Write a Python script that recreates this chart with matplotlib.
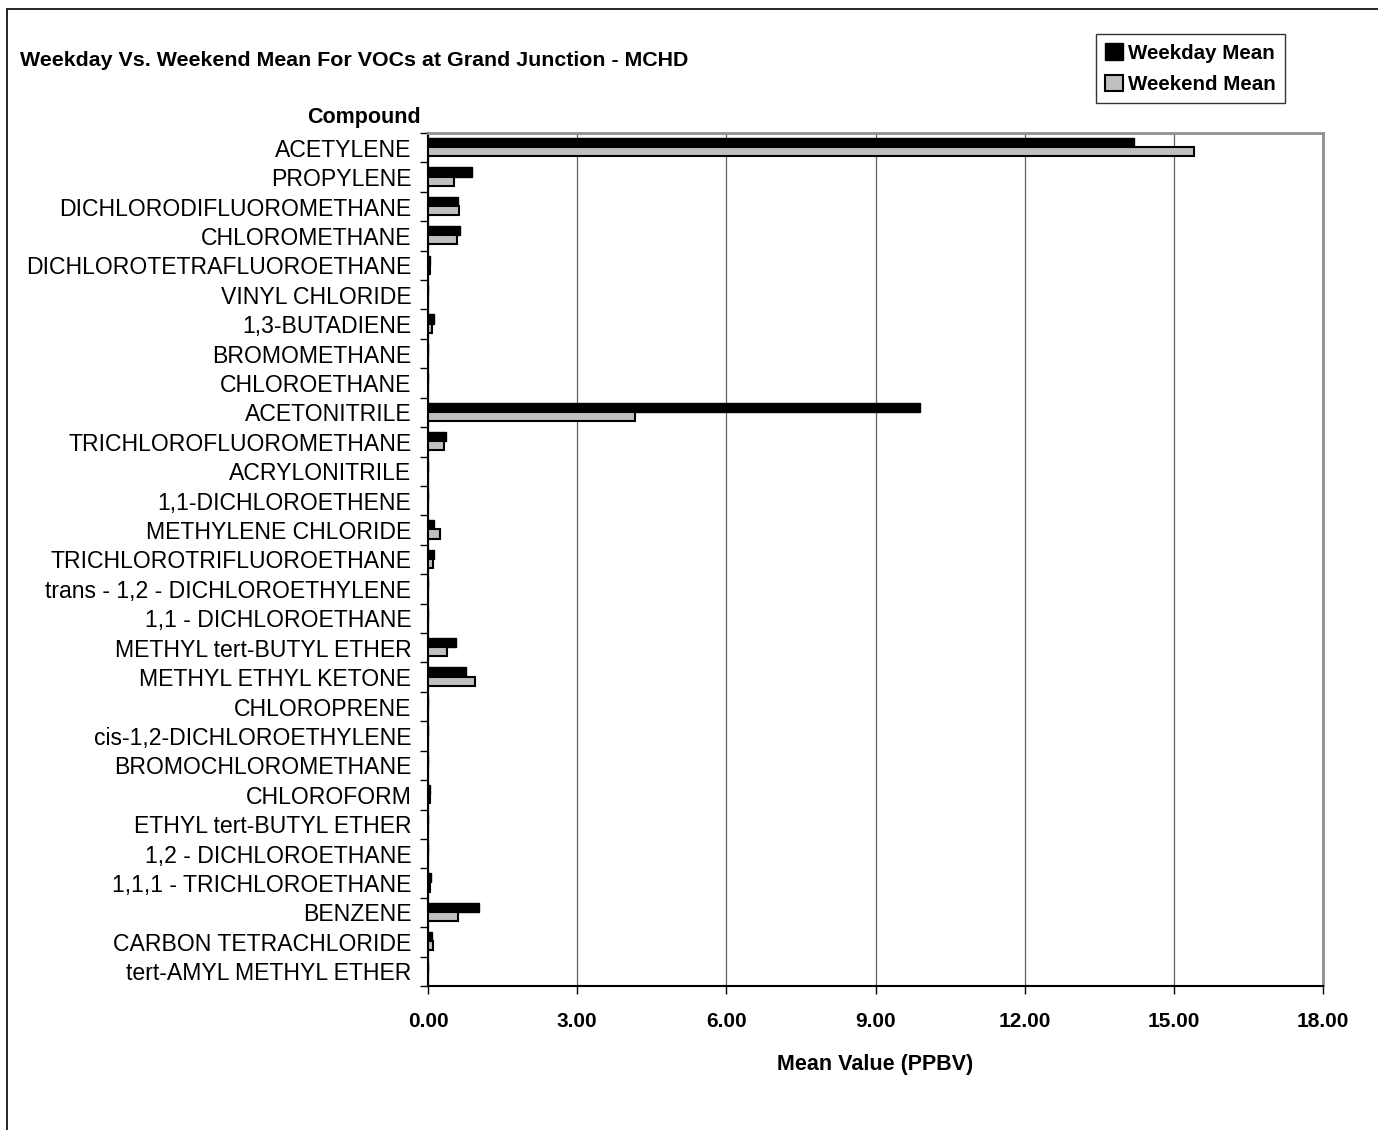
import numpy as np
import matplotlib
matplotlib.use("Agg")
import matplotlib.pyplot as plt
from matplotlib.patches import Patch, Rectangle

plt.rcParams['font.family'] = ['Liberation Sans', 'DejaVu Sans']

compounds = ["ACETYLENE", "PROPYLENE", "DICHLORODIFLUOROMETHANE", "CHLOROMETHANE",
             "DICHLOROTETRAFLUOROETHANE", "VINYL CHLORIDE", "1,3-BUTADIENE", "BROMOMETHANE",
             "CHLOROETHANE", "ACETONITRILE", "TRICHLOROFLUOROMETHANE", "ACRYLONITRILE",
             "1,1-DICHLOROETHENE", "METHYLENE CHLORIDE", "TRICHLOROTRIFLUOROETHANE",
             "trans - 1,2 - DICHLOROETHYLENE", "1,1 - DICHLOROETHANE", "METHYL tert-BUTYL ETHER",
             "METHYL ETHYL KETONE", "CHLOROPRENE", "cis-1,2-DICHLOROETHYLENE",
             "BROMOCHLOROMETHANE", "CHLOROFORM", "ETHYL tert-BUTYL ETHER",
             "1,2 - DICHLOROETHANE", "1,1,1 - TRICHLOROETHANE", "BENZENE",
             "CARBON TETRACHLORIDE", "tert-AMYL METHYL ETHER"]

weekday = [14.2, 0.88, 0.60, 0.65, 0.05, 0.0, 0.13, 0.0, 0.0, 9.90, 0.36, 0.0, 0.0,
           0.13, 0.12, 0.0, 0.0, 0.56, 0.76, 0.0, 0.0, 0.0, 0.05, 0.0, 0.0, 0.07,
           1.03, 0.09, 0.0]
weekend = [15.4, 0.53, 0.62, 0.58, 0.04, 0.0, 0.08, 0.0, 0.0, 4.16, 0.32, 0.0, 0.0,
           0.25, 0.11, 0.0, 0.0, 0.39, 0.95, 0.0, 0.0, 0.0, 0.04, 0.0, 0.0, 0.05,
           0.61, 0.10, 0.0]

xticks = [0, 3, 6, 9, 12, 15, 18]

W, H = 1378, 1130
fig = plt.figure(figsize=(W / 100, H / 100), dpi=100)
ax = fig.add_axes([428 / W, 1 - 986 / H, (1323 - 428) / W, (986 - 133) / H])

y = np.arange(len(compounds))
h = 0.31
ax.barh(y - h / 2 - 0.02, weekday, height=h, color='black', edgecolor='black', linewidth=1, zorder=3)
ax.barh(y + h / 2 - 0.02, weekend, height=h, color='#c0c0c0', edgecolor='black', linewidth=1.5, zorder=3)

ax.set_xlim(0, 18)
ax.set_ylim(len(compounds) - 0.5, -0.5)
ax.set_xticks(xticks)
ax.set_xticklabels(["%.2f" % v for v in xticks], fontsize=15, fontweight='bold')
ax.tick_params(axis='x', length=6, width=1, pad=13)
ax.set_yticks(y)
ax.set_yticklabels(compounds, fontsize=16.6)
ax.set_yticks(np.arange(len(compounds) + 1) - 0.5, minor=True)
ax.tick_params(axis='y', which='major', length=0, pad=12)
ax.tick_params(axis='y', which='minor', length=6, width=1)
ax.xaxis.grid(True, color='#606060', linewidth=0.9, zorder=0)
ax.set_axisbelow(True)

for s in ['top', 'right']:
    ax.spines[s].set_color('#909090')
    ax.spines[s].set_linewidth(2)
ax.spines['left'].set_linewidth(1.5)
ax.spines['bottom'].set_linewidth(1.5)

ax.set_xlabel("Mean Value (PPBV)", fontsize=15.5, fontweight='bold', labelpad=16)
fig.text(364 / W, 1 - 118 / H, "Compound", fontsize=15.5, fontweight='bold', ha='center', va='center')
fig.text(20 / W, 1 - 61 / H, "Weekday Vs. Weekend Mean For VOCs at Grand Junction - MCHD",
         fontsize=15.4, fontweight='bold', ha='left', va='center')

handles = [Patch(facecolor='black', edgecolor='black', label='Weekday Mean'),
           Patch(facecolor='#c0c0c0', edgecolor='black', linewidth=1.5, label='Weekend Mean')]
leg = fig.legend(handles=handles, loc='upper left', bbox_to_anchor=(1096 / W, 1 - 34 / H),
                 prop={'size': 14.8, 'weight': 'bold'}, frameon=True, fancybox=False,
                 handlelength=0.85, handleheight=0.85, handletextpad=0.25, borderpad=0.45,
                 labelspacing=0.6, borderaxespad=0)
leg.get_frame().set_edgecolor('black')
leg.get_frame().set_linewidth(1)

fig.patches.append(Rectangle((6.5 / W, -0.05), 1.2, 1 - 9 / H + 0.05, transform=fig.transFigure,
                             fill=False, edgecolor='black', linewidth=1.2))

fig.savefig("out.png", dpi=100, facecolor='white')
